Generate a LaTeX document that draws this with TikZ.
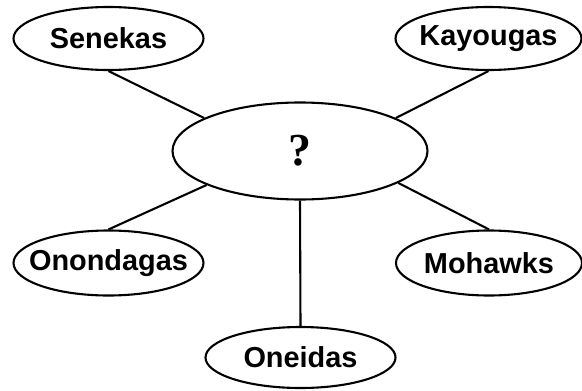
\documentclass[tikz,border=0pt]{standalone}
\usepackage{fontspec}
\setmainfont{Liberation Sans}
\newfontfamily\qfont{Liberation Serif}
\usepackage{tikz}
\usetikzlibrary{shapes.geometric}

\tikzset{
  tribe/.style={ellipse, draw, line width=2.1pt, inner sep=0pt,
    minimum width=190bp, minimum height=63bp},
  tribetext/.style={inner sep=0pt, font=\fontsize{29}{32}\selectfont\bfseries},
  link/.style={line width=2.1pt}
}

\begin{document}
\begin{tikzpicture}[x=1bp, y=1bp]
  \useasboundingbox (0,0) rectangle (582,390);

  % centre
  \node[tribe, minimum width=255bp, minimum height=97bp,
        label={[tribetext, font=\fontsize{46}{50}\selectfont\qfont\bfseries]center:?}] (q) at (300,239) {};

  % the five nations
  \node[tribe, label={[tribetext]center:Senekas}] (sen) at (108.5,351.5) {};
  \node[tribe, minimum width=186bp, label={[tribetext]center:Kayougas}] (kay) at (488.5,351.5) {};
  \node[tribe, minimum height=65bp, label={[tribetext]center:Onondagas}] (ono) at (108.5,127) {};
  \node[tribe, minimum width=186bp, minimum height=65bp, label={[tribetext]center:Mohawks}] (moh) at (489,127) {};
  \node[tribe, minimum height=61bp, label={[tribetext]center:Oneidas}] (one) at (300.5,32.5) {};

  % links
  \draw[link] (sen.south) -- (q.161);
  \draw[link] (kay.south) -- (q.19);
  \draw[link] (q.200) -- (ono.north);
  \draw[link] (q.-18) -- (moh.north);
  \draw[link] (q.south) -- (one.north);
\end{tikzpicture}
\end{document}
